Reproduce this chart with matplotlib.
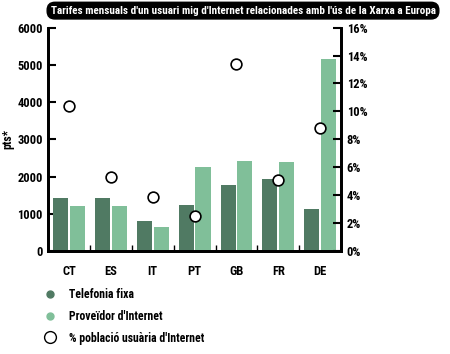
import matplotlib
matplotlib.use("Agg")
import matplotlib.pyplot as plt
import numpy as np
from matplotlib.lines import Line2D

countries = ['CT', 'ES', 'IT', 'PT', 'GB', 'FR', 'DE']
telefonia = [1420, 1420, 800, 1230, 1770, 1930, 1140]
proveidor = [1220, 1220, 650, 2260, 2420, 2390, 5150]
poblacio = [10.4, 5.3, 3.9, 2.5, 13.4, 5.1, 8.8]

dark = '#507a63'
light = '#80bf99'
plt.rcParams['font.family'] = ['Roboto Condensed', 'Archivo Narrow', 'DejaVu Sans']
plt.rcParams['font.weight'] = 'bold'

fig = plt.figure(figsize=(4.5, 3.54), dpi=100)
ax = fig.add_axes([0.107, 0.291, 0.651, 0.631])
x = np.arange(len(countries))
w = 0.36
ax.bar(x - 0.2, telefonia, w, color=dark, zorder=2)
ax.bar(x + 0.2, proveidor, w, color=light, zorder=2)
ax.set_xlim(-0.5, 6.5)
ax.set_ylim(0, 6000)
ax.set_yticks(range(0, 6001, 1000))
ax.set_xticks(x)
ax.set_xticklabels(countries, fontsize=9, fontweight='bold')
ax.set_xticks(np.arange(0.5, 6.5, 1), minor=True)
ax.tick_params(axis='x', which='major', length=0, pad=10)
ax.tick_params(axis='x', which='minor', direction='in', length=4, width=1)
ax.tick_params(axis='y', direction='in', length=6, width=1.5, labelsize=9, pad=4)
ax.set_ylabel('pts*', fontsize=8.5, fontweight='bold')
ax.yaxis.set_label_coords(-0.115, 0.5)
for s in ['left', 'bottom', 'right']:
    ax.spines[s].set_linewidth(2)
ax.spines['top'].set_visible(False)

ax2 = ax.twinx()
ax2.set_ylim(0, 16)
ax2.set_yticks(range(0, 17, 2))
ax2.set_yticklabels([f'{v}%' for v in range(0, 17, 2)])
ax2.tick_params(axis='y', direction='in', length=6, width=1.5, labelsize=9, pad=4)
ax2.scatter(x, poblacio, s=60, facecolor='white', edgecolor='black', linewidth=1.2, zorder=5)
for s in ['left', 'bottom', 'right']:
    ax2.spines[s].set_linewidth(2)
ax2.spines['top'].set_visible(False)

fig.text(0.54, 0.97, "Tarifes mensuals d'un usuari mig d'Internet relacionades amb l'ús de la Xarxa a Europa",
         ha='center', va='center', color='white', fontsize=8, fontweight='bold',
         bbox=dict(boxstyle='round,pad=0.3,rounding_size=0.7', facecolor='black', edgecolor='black'))

handles = [
    Line2D([], [], marker='o', linestyle='', markersize=5, markerfacecolor=dark, markeredgecolor=dark),
    Line2D([], [], marker='o', linestyle='', markersize=5, markerfacecolor=light, markeredgecolor=light),
    Line2D([], [], marker='o', linestyle='', markersize=8.5, markerfacecolor='white', markeredgecolor='black'),
]
labels = ['Telefonia fixa', "Proveïdor d'Internet", "% població usuària d'Internet"]
fig.legend(handles, labels, loc='upper left', bbox_to_anchor=(0.075, 0.2), frameon=False,
           fontsize=8.5, labelspacing=0.75, handletextpad=0.6, borderaxespad=0)

fig.savefig('out.png', dpi=100)
